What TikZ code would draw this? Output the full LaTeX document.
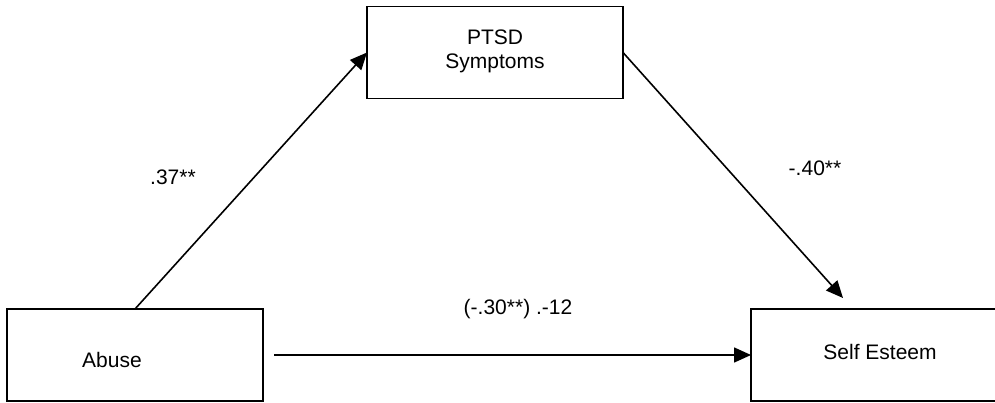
\documentclass[tikz,border=0pt]{standalone}
\usepackage{fontspec}
\setmainfont{Liberation Sans}
\usetikzlibrary{arrows.meta,calc}
\begin{document}
\begin{tikzpicture}[x=1pt,y=-1pt,
  box/.style={draw=black,line width=1.6pt,minimum width=256pt,minimum height=92pt,inner sep=0pt,outer sep=0pt},
  lbl/.style={inner sep=0pt,font=\fontsize{21}{25}\selectfont},
  arr/.style={line width=1.6pt,-{Triangle[length=17pt,width=15pt]}}]
\useasboundingbox (0,0) rectangle (995,403);
\begin{scope}
\clip (0,0) rectangle (995,403);
\node[box] (ptsd) at (495,52.5) {};
\node[box] (abuse) at (135,355) {};
\node[box] (self) at (879,355) {};
\end{scope}
\node[lbl,align=center] (ptsdT) at (495,51) {PTSD\\[-1pt] Symptoms};
\node[lbl] (abuseT) at (112,360) {Abuse};
\node[lbl] (selfT) at (880,352) {Self Esteem};
\coordinate (t2) at (843,298);
\draw[arr] (abuse.north) -- (ptsd.west);
\draw[arr] (ptsd.east) -- (t2);
\draw[arr,shorten <=11pt] (abuse.east) -- (self.west);
\node[lbl] (a) at (173,177) {.37**};
\node[lbl] (b) at (815,168) {-.40**};
\node[lbl] (c) at (518,309) {(-.30**) .-12};
\end{tikzpicture}
\end{document}
